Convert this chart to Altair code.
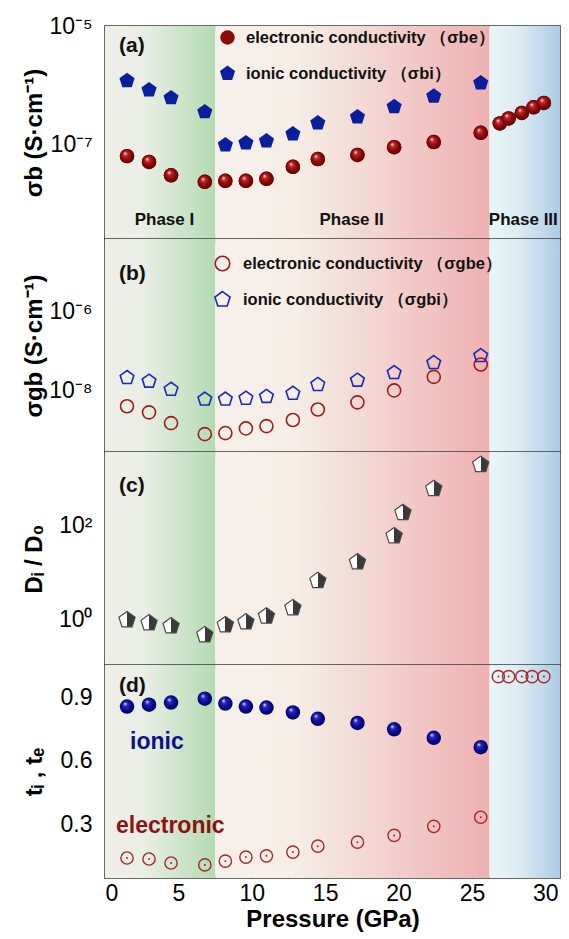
import altair as alt
import pandas as pd

# ---------------- data ----------------
P_main = [1.5, 3.0, 4.5, 6.8, 8.2, 9.6, 11.0, 12.8, 14.5, 17.2, 19.7, 22.4, 25.6]
P_III = [26.9, 27.5, 28.4, 29.2, 29.9]

sigma_be = [6.5e-8, 5.2e-8, 3.1e-8, 2.4e-8, 2.5e-8, 2.5e-8, 2.7e-8,
            4.3e-8, 5.8e-8, 6.8e-8, 9.2e-8, 1.12e-7, 1.6e-7]
sigma_be_III = [2.3e-7, 2.8e-7, 3.45e-7, 4.3e-7, 5.1e-7]
sigma_bi = [1.2e-6, 8.4e-7, 6.2e-7, 3.6e-7, 1.0e-7, 1.08e-7, 1.17e-7,
            1.53e-7, 2.34e-7, 2.95e-7, 4.4e-7, 6.6e-7, 1.1e-6]

sigma_gbe = [4.0e-9, 2.8e-9, 1.5e-9, 7.9e-10, 8.4e-10, 1.1e-9, 1.26e-9,
             1.8e-9, 3.3e-9, 5.0e-9, 1.0e-8, 2.2e-8, 4.5e-8]
sigma_gbi = [2.1e-8, 1.7e-8, 1.06e-8, 6.0e-9, 6.0e-9, 6.3e-9, 7.0e-9,
             8.4e-9, 1.4e-8, 1.8e-8, 2.8e-8, 5.0e-8, 7.5e-8]

P_c = [1.5, 3.0, 4.5, 6.8, 8.2, 9.6, 11.0, 12.8, 14.5, 17.2, 19.7, 20.3, 22.4, 25.6]
D_ratio = [1.0, 0.86, 0.74, 0.48, 0.78, 0.9, 1.2, 1.8, 6.8, 17, 61, 190, 615, 2000]

t_i = [0.858, 0.867, 0.877, 0.895, 0.872, 0.858, 0.853, 0.83, 0.80, 0.78, 0.75, 0.71, 0.665]
t_e = [0.14, 0.135, 0.116, 0.107, 0.125, 0.144, 0.15, 0.168, 0.196, 0.215, 0.247, 0.29, 0.333]
P_te_III = [26.8, 27.5, 28.4, 29.1, 29.9]
t_e_III = [1.0, 1.0, 1.0, 1.0, 1.0]

phase_names = ["Phase I", "Phase II", "Phase III"]
phase_start = [0, 7.5, 26.2]
phase_end = [7.5, 26.2, 31]
phase_label_x = [4.05, 16.8, 28.5]

x_tick_values = [0, 2.5, 5, 7.5, 10, 12.5, 15, 17.5, 20, 22.5, 25, 27.5, 30]

leg_a = ["electronic conductivity  （σbe）", "ionic conductivity  （σbi）"]
leg_b = ["electronic conductivity  （σgbe）", "ionic conductivity  （σgbi）"]

# ---------------- styling ----------------
FONT = "Liberation Sans"
W, H = 455, 213
TICK = "#333333"
PENT = "M0,-1.1L1.046,-0.34L0.647,0.89L-0.647,0.89L-1.046,-0.34Z"

xscale = alt.Scale(domain=[0, 31], nice=False, zero=False)

phase_grad = [
    [(0, "#efeee9"), (0.35, "#eaeee5"), (1, "#b3dbb2")],
    [(0, "#f7f0ea"), (0.3, "#f5ede6"), (1, "#eeb1b1")],
    [(0, "#e8f6f7"), (0.4, "#dcecf2"), (1, "#adcbe5")],
]

RED_SPHERE = {"gradient": "radial", "x1": 0.36, "y1": 0.3, "r1": 0.02,
              "x2": 0.5, "y2": 0.5, "r2": 0.56,
              "stops": [{"offset": 0, "color": "#ffe4e4"},
                        {"offset": 0.22, "color": "#c02828"},
                        {"offset": 0.6, "color": "#8a0808"},
                        {"offset": 1, "color": "#560000"}]}
BLUE_SPHERE = {"gradient": "radial", "x1": 0.36, "y1": 0.3, "r1": 0.02,
               "x2": 0.5, "y2": 0.5, "r2": 0.56,
               "stops": [{"offset": 0, "color": "#e4e4ff"},
                         {"offset": 0.22, "color": "#2a2ac0"},
                         {"offset": 0.6, "color": "#0a0a90"},
                         {"offset": 1, "color": "#000058"}]}
HALF_PENT = {"gradient": "linear", "x1": 0, "y1": 0, "x2": 1, "y2": 0,
             "stops": [{"offset": 0, "color": "#ffffff"},
                       {"offset": 0.5, "color": "#ffffff"},
                       {"offset": 0.5, "color": "#3a3a3a"},
                       {"offset": 1, "color": "#3a3a3a"}]}


def x_bottom(show):
    kw = dict(orient="bottom", values=x_tick_values, offset=-5, tickSize=5,
              tickColor=TICK, tickWidth=1.2, domain=False, grid=False)
    if show:
        return alt.Axis(labels=True, labelExpr="datum.value % 5 == 0 ? datum.label : ''",
                        labelFontSize=23, labelPadding=4, labelFont=FONT, labelColor="black",
                        title="Pressure (GPa)", titleFontSize=24, titleFont=FONT,
                        titleFontWeight="bold", titlePadding=2, titleColor="black", **kw)
    return alt.Axis(labels=False, title=None, **kw)


def x_top():
    return alt.Axis(orient="top", values=x_tick_values, offset=-5, tickSize=5,
                    tickColor=TICK, tickWidth=1.2, domain=False, grid=False,
                    labels=False, title=None)


def y_axis(values, label_expr, title, title_x):
    return alt.Axis(orient="left", values=values, labelExpr=label_expr, offset=-5,
                    tickSize=5, tickColor=TICK, tickWidth=1.2, domain=False, grid=False,
                    labelFontSize=23, labelFont=FONT, labelPadding=13, labelColor="black",
                    title=title, titleFontSize=24, titleFont=FONT, titleFontWeight="bold",
                    titleX=title_x, titleY=H / 2, titleBaseline="middle", titleColor="black",
                    minExtent=70, maxExtent=70)


def backgrounds():
    layers = []
    for i in range(3):
        df = pd.DataFrame({"x0": [phase_start[i]], "x1": [phase_end[i]]})
        grad = {"gradient": "linear", "x1": 0, "y1": 0, "x2": 1, "y2": 0,
                "stops": [{"offset": o, "color": c} for o, c in phase_grad[i]]}
        ax = x_top() if i == 0 else None
        layers.append(alt.Chart(df).mark_rect(fill=grad).encode(
            x=alt.X("x0:Q", scale=xscale, axis=ax), x2="x1:Q"))
    return layers


def panel_label(txt, px, py):
    return alt.Chart(pd.DataFrame({"t": [txt]})).mark_text(
        font=FONT, fontSize=21, fontWeight="bold", align="left", baseline="middle",
        color="#111111").encode(text="t:N", x=alt.value(px), y=alt.value(py))


def legend(lx, ly, offset, row_pad):
    return alt.Legend(orient="none", legendX=lx, legendY=ly, title=None,
                      labelFont=FONT, labelFontSize=16.5, labelFontWeight="bold",
                      labelColor="#111111", labelLimit=400, labelOffset=offset,
                      rowPadding=row_pad, padding=0, symbolSize=210, symbolStrokeWidth=1.6)


# ---------------- panel (a) ----------------
ya_scale = alt.Scale(type="log", domain=[2.63e-9, 1e-5], nice=False)
ya_axis = y_axis([1e-8, 1e-7, 1e-6, 1e-5],
                 "datum.value > 5e-6 ? '10⁻⁵' : (datum.value > 5e-8 && datum.value < 5e-7 ? '10⁻⁷' : '')",
                 "σb (S·cm⁻¹)", -76)

df_a = pd.DataFrame({
    "P": P_main + P_III + P_main,
    "v": sigma_be + sigma_be_III + sigma_bi,
    "s": [leg_a[0]] * (len(P_main) + len(P_III)) + [leg_a[1]] * len(P_main),
})
leg_obj_a = legend(114, 3, 10, 19)
a_pts = alt.Chart(df_a).mark_point(filled=True, size=210, opacity=1).encode(
    x=alt.X("P:Q", scale=xscale, axis=x_bottom(False)),
    y=alt.Y("v:Q", scale=ya_scale, axis=ya_axis),
    color=alt.Color("s:N", scale=alt.Scale(domain=leg_a, range=["#8b0a0a", "#0b1f9c"]), legend=leg_obj_a),
    shape=alt.Shape("s:N", scale=alt.Scale(domain=leg_a, range=["circle", PENT]), legend=leg_obj_a),
)
df_a_red = pd.DataFrame({"P": P_main + P_III, "v": sigma_be + sigma_be_III})
a_spheres = alt.Chart(df_a_red).mark_point(filled=True, size=210, shape="circle",
                                           fill=RED_SPHERE, opacity=1, strokeWidth=0).encode(
    x=alt.X("P:Q", scale=xscale, axis=None),
    y=alt.Y("v:Q", scale=ya_scale, axis=ya_axis),
)
df_phase = pd.DataFrame({"name": phase_names, "px": phase_label_x})
a_phase = alt.Chart(df_phase).mark_text(font=FONT, fontSize=17, fontWeight="bold",
                                         baseline="middle", color="#111111").encode(
    x=alt.X("px:Q", scale=xscale, axis=None), y=alt.value(194), text="name:N")

panel_a = alt.layer(*backgrounds(), a_pts, a_spheres, a_phase, panel_label("(a)", 14, 20)).properties(
    width=W, height=H).resolve_axis(x="independent")

# ---------------- panel (b) ----------------
yb_scale = alt.Scale(type="log", domain=[2.8e-10, 6.6e-5], nice=False)
yb_axis = y_axis([1e-9, 1e-8, 1e-7, 1e-6, 1e-5],
                 "datum.value > 5e-7 && datum.value < 5e-6 ? '10⁻⁶' : (datum.value > 5e-9 && datum.value < 5e-8 ? '10⁻⁸' : '')",
                 "σgb (S·cm⁻¹)", -76)
df_b = pd.DataFrame({
    "P": P_main + P_main,
    "v": sigma_gbe + sigma_gbi,
    "s": [leg_b[0]] * len(P_main) + [leg_b[1]] * len(P_main),
})
leg_obj_b = legend(109, 16, 12, 14)
b_pts = alt.Chart(df_b).mark_point(filled=False, size=170, strokeWidth=1.6, opacity=1).encode(
    x=alt.X("P:Q", scale=xscale, axis=x_bottom(False)),
    y=alt.Y("v:Q", scale=yb_scale, axis=yb_axis),
    color=alt.Color("s:N", scale=alt.Scale(domain=leg_b, range=["#a01c1c", "#1a2ab4"]), legend=leg_obj_b),
    shape=alt.Shape("s:N", scale=alt.Scale(domain=leg_b, range=["circle", PENT]), legend=leg_obj_b),
)
panel_b = alt.layer(*backgrounds(), b_pts, panel_label("(b)", 14, 35)).properties(
    width=W, height=H).resolve_axis(x="independent")

# ---------------- panel (c) ----------------
yc_scale = alt.Scale(type="log", domain=[0.11, 3715], nice=False)
yc_axis = y_axis([0.1, 1, 10, 100, 1000],
                 "datum.value > 0.5 && datum.value < 5 ? '10⁰' : (datum.value > 50 && datum.value < 500 ? '10²' : '')",
                 "Dᵢ / D₀", -76)
df_c = pd.DataFrame({"P": P_c, "v": D_ratio})
c_pts = alt.Chart(df_c).mark_point(filled=True, shape=PENT, size=240, fill=HALF_PENT,
                                    stroke="#4a4a4a", strokeWidth=1.2, opacity=1).encode(
    x=alt.X("P:Q", scale=xscale, axis=x_bottom(False)),
    y=alt.Y("v:Q", scale=yc_scale, axis=yc_axis),
)
panel_c = alt.layer(*backgrounds(), c_pts, panel_label("(c)", 14, 34)).properties(
    width=W, height=H).resolve_axis(x="independent")

# ---------------- panel (d) ----------------
yd_scale = alt.Scale(domain=[0.045, 1.055], nice=False, zero=False)
yd_axis = y_axis([0.15, 0.3, 0.45, 0.6, 0.75, 0.9],
                 "abs(datum.value - 0.3) < 0.01 || abs(datum.value - 0.6) < 0.01 || abs(datum.value - 0.9) < 0.01 ? format(datum.value, '.1f') : ''",
                 "tᵢ , tₑ", -76)
df_d_i = pd.DataFrame({"P": P_main, "v": t_i})
df_d_e = pd.DataFrame({"P": P_main + P_te_III, "v": t_e + t_e_III})
d_ion = alt.Chart(df_d_i).mark_point(filled=True, size=210, shape="circle", fill=BLUE_SPHERE,
                                      opacity=1, strokeWidth=0).encode(
    x=alt.X("P:Q", scale=xscale, axis=x_bottom(True)),
    y=alt.Y("v:Q", scale=yd_scale, axis=yd_axis),
)
d_el = alt.Chart(df_d_e).mark_point(filled=False, size=150, shape="circle", color="#a52a2a",
                                     strokeWidth=1.4, opacity=1).encode(
    x=alt.X("P:Q", scale=xscale, axis=None),
    y=alt.Y("v:Q", scale=yd_scale, axis=yd_axis),
)
d_dot = alt.Chart(df_d_e).mark_point(filled=True, size=4, shape="circle", color="#a52a2a",
                                      opacity=1).encode(
    x=alt.X("P:Q", scale=xscale, axis=None),
    y=alt.Y("v:Q", scale=yd_scale, axis=yd_axis),
)
d_txt_ion = alt.Chart(pd.DataFrame({"t": ["ionic"]})).mark_text(
    font=FONT, fontSize=23, fontWeight="bold", align="left", baseline="middle",
    color="#10108c").encode(text="t:N", x=alt.value(25), y=alt.value(77))
d_txt_el = alt.Chart(pd.DataFrame({"t": ["electronic"]})).mark_text(
    font=FONT, fontSize=23, fontWeight="bold", align="left", baseline="middle",
    color="#8b1414").encode(text="t:N", x=alt.value(11), y=alt.value(161))

panel_d = alt.layer(*backgrounds(), d_ion, d_el, d_dot, d_txt_ion, d_txt_el,
                    panel_label("(d)", 14, 21)).properties(
    width=W, height=H).resolve_axis(x="independent")

chart = alt.vconcat(panel_a, panel_b, panel_c, panel_d, spacing=0, bounds="flush").resolve_scale(
    y="independent", color="independent", shape="independent"
).configure_view(stroke="#3a3a3a", strokeWidth=1.5).properties(
    padding={"left": 13, "top": 6, "right": 0, "bottom": 0}
)

chart.save("out.html", embed_options={"renderer": "svg", "actions": False})
